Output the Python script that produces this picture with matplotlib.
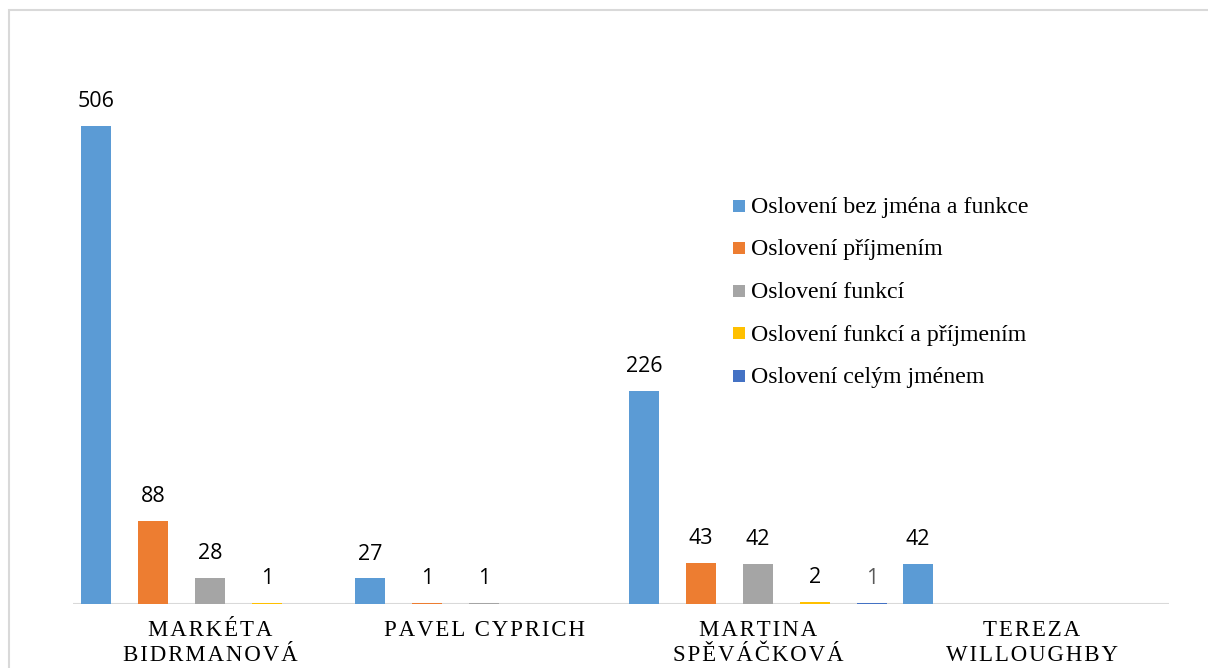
import matplotlib
matplotlib.use("Agg")
import matplotlib.pyplot as plt
from matplotlib.patches import Rectangle
import numpy as np

categories = ["MARKÉTA\nBIDRMANOVÁ", "PAVEL CYPRICH", "MARTINA\nSPĚVÁČKOVÁ", "TEREZA\nWILLOUGHBY"]
series_names = ["Oslovení bez jména a funkce", "Oslovení příjmením", "Oslovení funkcí",
                "Oslovení funkcí a příjmením", "Oslovení celým jménem"]
bez_jmena = [506, 27, 226, 42]
prijmenim = [88, 1, 43, 0]
funkci = [28, 1, 42, 0]
funkci_prijmenim = [1, 0, 2, 0]
celym_jmenem = [0, 0, 1, 0]
series_values = [bez_jmena, prijmenim, funkci, funkci_prijmenim, celym_jmenem]
colors = ["#5B9BD5", "#ED7D31", "#A5A5A5", "#FFC000", "#4472C4"]

W, H = 1208, 668
fig = plt.figure(figsize=(W / 100, H / 100), dpi=100)
fig.patch.set_facecolor("white")
# outer border
fig.add_artist(Rectangle((9 / W, -0.1), 1.2, (H - 10) / H + 0.1, transform=fig.transFigure,
                         fill=False, edgecolor="#D9D9D9", linewidth=1.5))

ymax = 550
px_per_unit = 478 / 506
top_px = 604 - ymax * px_per_unit
ax = fig.add_axes([73 / W, (H - 604) / H, (1169 - 73) / W, (604 - top_px) / H])
ax.set_xlim(0, 4)
ax.set_ylim(0, ymax)
for s in ax.spines.values():
    s.set_visible(False)
ax.set_xticks([])
ax.set_yticks([])
ax.axhline(0, color="#D9D9D9", linewidth=1.5, zorder=1)

slot = 57 / 274
bw = 30 / 274
x = np.arange(len(categories)) + 0.5
label_font = ["Open Sans", "DejaVu Sans"]
for j, (vals, col, name) in enumerate(zip(series_values, colors, series_names)):
    xs = x + (j - 2) * slot
    ax.bar(xs, vals, width=bw, color=col, label=name, zorder=2, alpha=1.0)
    for xi, v in zip(xs, vals):
        if v > 0:
            c = "#595959" if j == 4 else "black"
            ax.annotate(str(v), (xi, v), xytext=(0, 10), textcoords="offset points",
                        ha="center", va="bottom", fontsize=15.5, color=c, family=label_font)

# category labels with letter spacing
serif = ["Liberation Serif", "DejaVu Serif"]
def spaced(s):
    return "\u200a".join(list(s))
for xi, cat in zip(x, categories):
    lines = cat.split("\n")
    for k, line in enumerate(lines):
        ypx = 631 + k * 24.5
        ax.text(xi, -(ypx - 604) / px_per_unit, spaced(line), ha="center", va="center",
                fontsize=16.5, family=serif, color="black", clip_on=False)

# legend
leg_y = [206, 248, 291, 333, 376]
for name, col, ly in zip(series_names, colors, leg_y):
    fig.add_artist(Rectangle((733 / W, (H - ly - 6) / H), 12 / W, 12 / H,
                             transform=fig.transFigure, facecolor=col, edgecolor="none"))
    fig.text(751 / W, (H - ly - 7.5) / H, name, ha="left", va="baseline", fontsize=17.2,
             family=serif, color="black")

fig.savefig("out.png", dpi=100)
